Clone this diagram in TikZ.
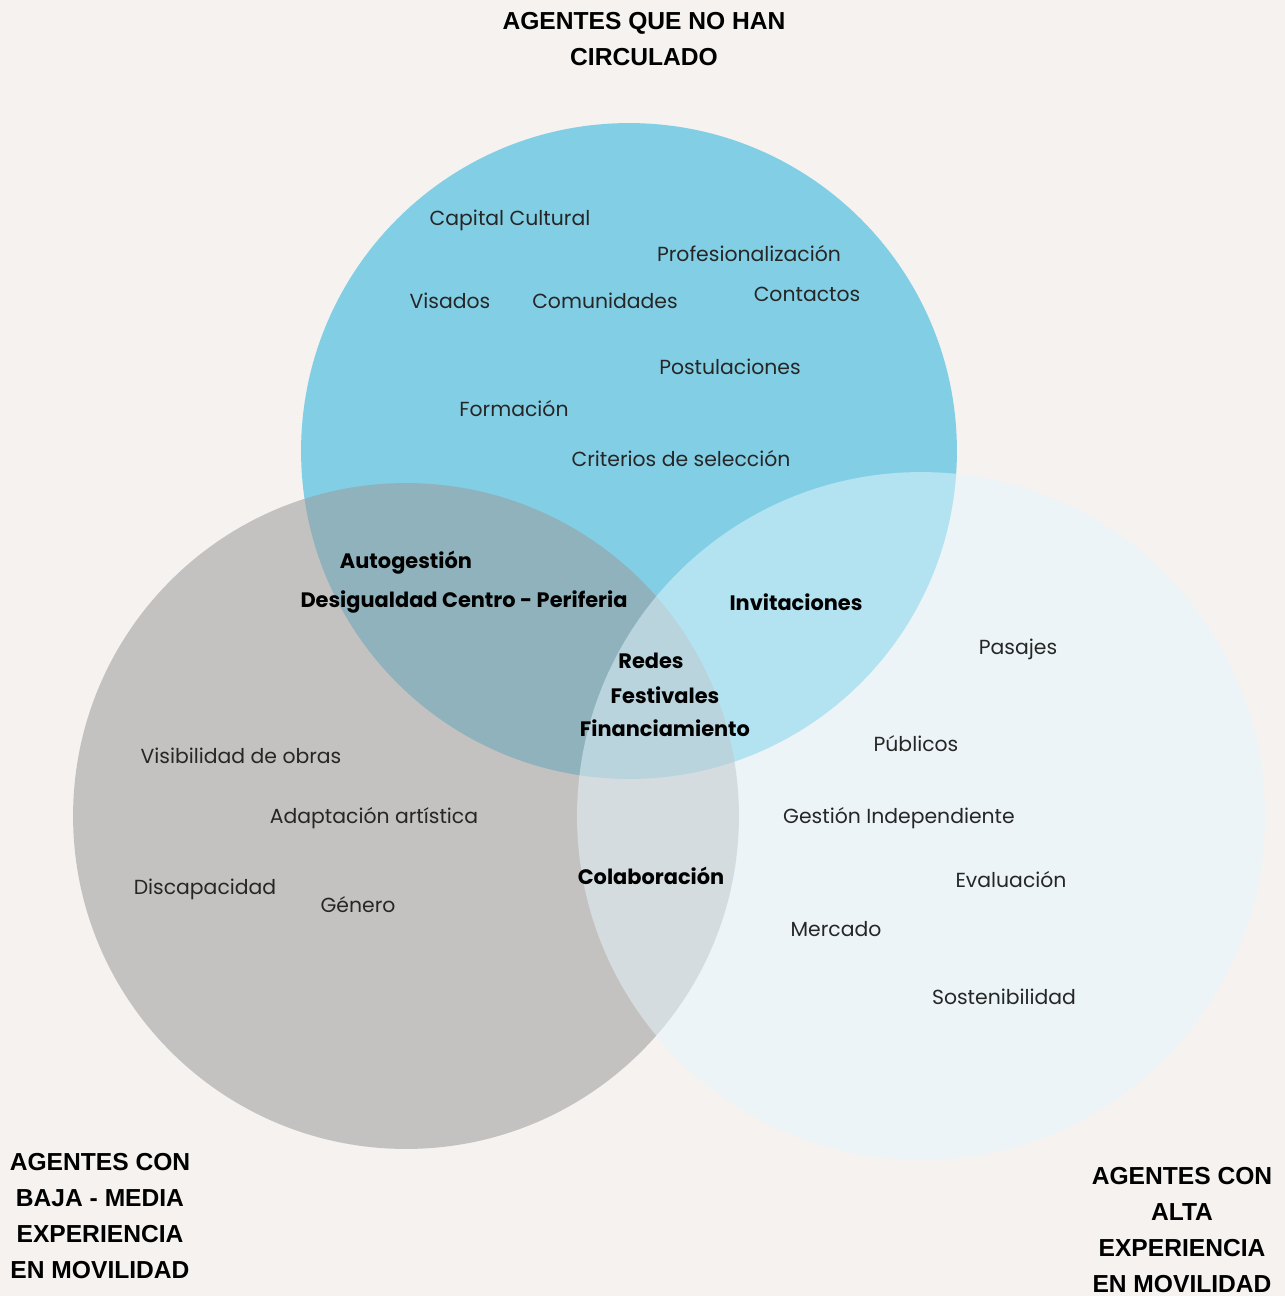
\documentclass[tikz,border=0pt]{standalone}
\usepackage{fontspec}
\setmainfont{Poppins}
\newfontfamily\headfont{Liberation Sans}
\definecolor{fondo}{RGB}{245,242,240}
\definecolor{azul}{RGB}{130,207,229}
\definecolor{gris}{RGB}{156,155,156}
\definecolor{celeste}{RGB}{229,246,254}
\begin{document}
\begin{tikzpicture}[x=0.02cm,y=-0.02cm,
    every node/.style={inner sep=1pt},
    tema/.style={font=\fontsize{11.6}{13}\selectfont, text=black!85},
    clave/.style={font=\fontsize{11.9}{13}\selectfont\bfseries},
    grupo/.style={font=\headfont\bfseries\fontsize{14}{20.4}\selectfont, align=center}]
      \fill[fondo] (0,0) rectangle (1285,1296);
      \useasboundingbox (0,0) rectangle (1285,1296);

      \coordinate (cA) at (629,451);
      \coordinate (cB) at (406,816);
      \coordinate (cC) at (921,816);
      \fill[azul] (cA) circle[radius=6.56cm];
      \fill[gris, fill opacity=0.55] (cB) circle[radius=6.66cm];
      \fill[celeste, fill opacity=0.5] (cC) circle[radius=6.88cm];

      \node[grupo] (gA) at (644,39) {AGENTES QUE NO HAN\\CIRCULADO};
      \node[grupo] (gB) at (100,1216) {AGENTES CON\\BAJA - MEDIA\\EXPERIENCIA\\EN MOVILIDAD};
      \node[grupo] (gC) at (1182,1230) {AGENTES CON\\ALTA\\EXPERIENCIA\\EN MOVILIDAD};

      \node[tema] (a1) at (510,220) {Capital Cultural};
      \node[tema] (a2) at (749,254) {Profesionalización};
      \node[tema] (a3) at (450,301) {Visados};
      \node[tema] (a4) at (605,301) {Comunidades};
      \node[tema] (a5) at (807,294) {Contactos};
      \node[tema] (a6) at (730,367) {Postulaciones};
      \node[tema] (a7) at (514,409) {Formación};
      \node[tema] (a8) at (681,459) {Criterios de selección};

      \node[clave] (ab1) at (406,563) {Autogestión};
      \node[clave] (ab2) at (464,602) {Desigualdad Centro - Periferia};
      \node[clave] (ac1) at (796,602) {Invitaciones};
      \node[clave] (abc1) at (651,661) {Redes};
      \node[clave] (abc2) at (665,695) {Festivales};
      \node[clave] (abc3) at (665,728) {Financiamiento};
      \node[clave] (bc1) at (651,876) {Colaboración};

      \node[tema] (b1) at (241,756) {Visibilidad de obras};
      \node[tema] (b2) at (374,818) {Adaptación artística};
      \node[tema] (b3) at (205,889) {Discapacidad};
      \node[tema] (b4) at (358,905) {Género};

      \node[tema] (c1) at (1018,649) {Pasajes};
      \node[tema] (c2) at (916,744) {Públicos};
      \node[tema] (c3) at (899,818) {Gestión Independiente};
      \node[tema] (c4) at (1011,880) {Evaluación};
      \node[tema] (c5) at (836,929) {Mercado};
      \node[tema] (c6) at (1004,997) {Sostenibilidad};
\end{tikzpicture}
\end{document}
